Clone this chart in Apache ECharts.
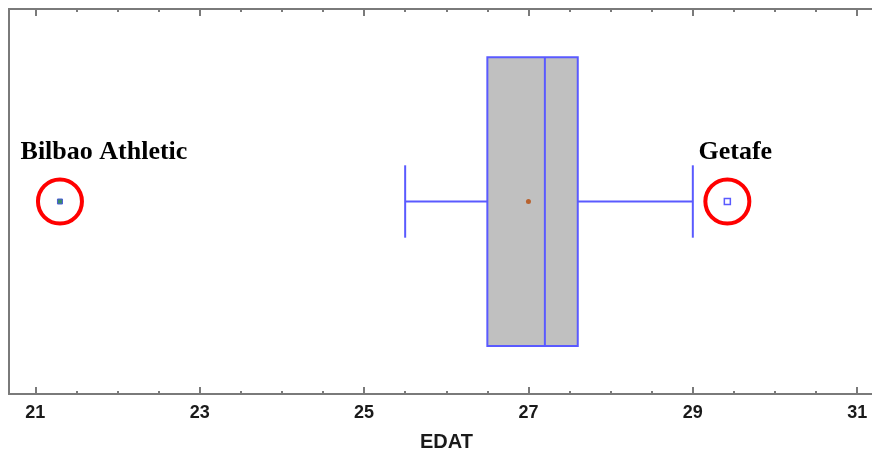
<!DOCTYPE html>
<html>
<head>
<meta charset="utf-8">
<script src="https://cdn.jsdelivr.net/npm/echarts@6/dist/echarts.min.js"></script>
<style>
  html, body { margin: 0; padding: 0; background: #fff; }
  #chart { width: 872px; height: 450px; }
</style>
</head>
<body>
<div id="chart"></div>
<script>
// box summary for EDAT: [low whisker, Q1, median, Q3, high whisker]
var boxStats = [25.5, 26.5, 27.2, 27.6, 29.0];
var meanValue = 27.0;
var outlierNames = ['Bilbao Athletic', 'Getafe'];
var outlierValues = [21.3, 29.42];
var majorTicks = [21, 23, 25, 27, 29, 31];
var minorTicks = [21.5, 22, 22.5, 23.5, 24, 24.5, 25.5, 26, 26.5, 27.5, 28, 28.5, 29.5, 30, 30.5];
var axisName = 'EDAT';

var myChart = echarts.init(document.getElementById('chart'));

var X_MIN = 20.68, X_MAX = 31.18;
var grey = '#7a7a7a';
var blue = '#5a5aff';

function tickAxis(pos, vals, len, showLabel) {
    return {
        type: 'value',
        position: pos,
        min: X_MIN,
        max: X_MAX,
        axisLine: { show: true, onZero: false, lineStyle: { color: grey, width: 2 } },
        axisTick: { show: true, inside: true, length: len, customValues: vals, lineStyle: { color: grey, width: 2 } },
        axisLabel: showLabel ? {
            show: true,
            customValues: vals,
            margin: 10,
            color: '#1a1a1a',
            fontFamily: 'Liberation Sans, Arial, sans-serif',
            fontWeight: 'bold',
            fontSize: 18
        } : { show: false },
        splitLine: { show: false }
    };
}

var xMain = tickAxis('bottom', majorTicks, 7, true);
xMain.name = axisName;
xMain.nameLocation = 'middle';
xMain.nameGap = 38;
xMain.nameTextStyle = {
    color: '#1a1a1a',
    fontFamily: 'Liberation Sans, Arial, sans-serif',
    fontWeight: 'bold',
    fontSize: 20,
    padding: [0, 0, 0, 12]
};

// box drawn by hand: caps are shorter than the box in this style
function renderBox(params, api) {
    var lo = api.coord([api.value(0), 0]);
    var q1 = api.coord([api.value(1), 0]);
    var md = api.coord([api.value(2), 0]);
    var q3 = api.coord([api.value(3), 0]);
    var hi = api.coord([api.value(4), 0]);
    var band = api.size([0, 1])[1];
    var cy = lo[1];
    var hb = band * 0.375;  // half height of box
    var hc = band * 0.094;  // half height of whisker caps
    var ls = { stroke: blue, lineWidth: 2 };
    return {
        type: 'group',
        children: [
            { type: 'line', shape: { x1: lo[0], y1: cy, x2: q1[0], y2: cy }, style: ls },
            { type: 'line', shape: { x1: q3[0], y1: cy, x2: hi[0], y2: cy }, style: ls },
            { type: 'line', shape: { x1: lo[0], y1: cy - hc, x2: lo[0], y2: cy + hc }, style: ls },
            { type: 'line', shape: { x1: hi[0], y1: cy - hc, x2: hi[0], y2: cy + hc }, style: ls },
            { type: 'rect', shape: { x: q1[0], y: cy - hb, width: q3[0] - q1[0], height: hb * 2 },
              style: { fill: '#c0c0c0', stroke: blue, lineWidth: 2 } },
            { type: 'line', shape: { x1: md[0], y1: cy - hb, x2: md[0], y2: cy + hb }, style: ls }
        ]
    };
}

var labelFont = {
    show: true,
    position: 'top',
    color: '#000',
    fontFamily: 'Liberation Serif, Times New Roman, serif',
    fontWeight: 'bold',
    fontSize: 26
};
var labelOffsets = [[44, -7], [8, -7]];

var option = {
    backgroundColor: '#fff',
    animation: false,
    grid: { left: 9, right: 0, top: 9, bottom: 56, containLabel: false, outerBoundsMode: 'none' },
    xAxis: [
        xMain,
        tickAxis('bottom', minorTicks, 3, false),
        tickAxis('top', majorTicks, 7, false),
        tickAxis('top', minorTicks, 3, false)
    ],
    yAxis: {
        type: 'category',
        data: [axisName],
        axisLine: { show: true, lineStyle: { color: grey, width: 2 } },
        axisTick: { show: false },
        axisLabel: { show: false },
        splitLine: { show: false }
    },
    series: [
        {
            type: 'custom',
            renderItem: renderBox,
            encode: { x: [0, 1, 2, 3, 4], y: 5 },
            data: [boxStats.concat([0])],
            z: 2
        },
        {
            type: 'scatter',
            symbol: 'circle',
            symbolSize: 5,
            itemStyle: { color: '#b8622e', opacity: 1 },
            data: [[meanValue, 0]],
            z: 3
        },
        {
            // outlier markers
            type: 'scatter',
            symbol: 'rect',
            itemStyle: { opacity: 1 },
            data: [
                { value: [outlierValues[0], 0], symbolSize: 5,
                  itemStyle: { color: '#3a8a6a', borderColor: '#4a5ad8', borderWidth: 1, opacity: 1 } },
                { value: [outlierValues[1], 0], symbolSize: 6,
                  itemStyle: { color: '#fff', borderColor: blue, borderWidth: 1.5, opacity: 1 } }
            ],
            z: 3
        },
        {
            // red rings round the outliers, with the team names
            type: 'scatter',
            symbol: 'circle',
            symbolSize: 44,
            itemStyle: { color: 'rgba(0,0,0,0)', borderColor: '#ff0000', borderWidth: 4, opacity: 1 },
            data: outlierNames.map(function (n, i) {
                return {
                    name: n,
                    value: [outlierValues[i], 0],
                    label: Object.assign({}, labelFont, { formatter: n, offset: labelOffsets[i] })
                };
            }),
            z: 4
        }
    ]
};

myChart.setOption(option);
</script>
</body>
</html>
